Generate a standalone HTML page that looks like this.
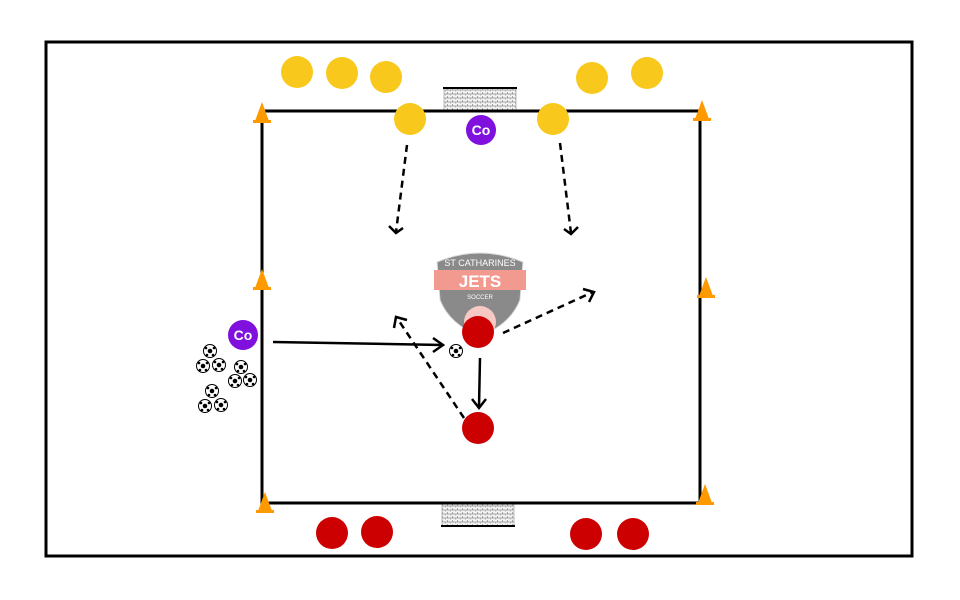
<!DOCTYPE html>
<html><head><style>body{margin:0;background:#fff}svg{display:block}</style></head><body>
<svg width="960" height="600" xmlns="http://www.w3.org/2000/svg" font-family="Liberation Sans, sans-serif">
<defs>
<pattern id="net" width="5" height="4" patternUnits="userSpaceOnUse"><rect width="5" height="4" fill="#f4f4f4"/><path d="M0 2h5M2.5 0v2M0 2v2" stroke="#888" stroke-width="0.7"/></pattern>
<g id="ball"><circle r="6.5" fill="#fff" stroke="#000" stroke-width="1"/><circle r="2.3" fill="#000"/><circle cx="-4" cy="-3" r="1.3" fill="#000"/><circle cx="4" cy="-3" r="1.3" fill="#000"/><circle cx="-3" cy="4" r="1.3" fill="#000"/><circle cx="3" cy="4" r="1.3" fill="#000"/></g>
<g id="cone"><polygon points="0,-13 7,6 -7,6" fill="#f90"/><rect x="-9" y="5" width="18" height="3" fill="#f90"/></g>
</defs>
<rect x="46" y="42" width="866" height="514" fill="#fff" stroke="#000" stroke-width="3"/>
<rect x="444" y="88" width="72" height="22" fill="url(#net)" stroke="#aaa" stroke-width="0.8"/><line x1="443" y1="88" x2="517" y2="88" stroke="#000" stroke-width="2"/>
<rect x="442" y="504" width="72" height="22" fill="url(#net)" stroke="#aaa" stroke-width="0.8"/><line x1="441" y1="526" x2="515" y2="526" stroke="#000" stroke-width="2"/>
<rect x="262" y="111" width="438" height="392" fill="none" stroke="#000" stroke-width="3"/>
<!-- logo -->
<g>
<path d="M437 262 Q480 244 523 262 L520 300 Q510 325 480 336 Q450 325 440 300 Z" fill="#8a8a8a" stroke="#ddd" stroke-width="1"/>
<rect x="434" y="270" width="92" height="20" fill="#f29a90"/>
<text x="480" y="266" font-size="9" fill="#fff" text-anchor="middle">ST CATHARINES</text>
<text x="480" y="287" font-size="17" font-weight="bold" fill="#fff" text-anchor="middle">JETS</text>
<text x="480" y="299" font-size="6" fill="#fff" text-anchor="middle">SOCCER</text>
<circle cx="480" cy="322" r="16" fill="#f6c9c4"/>
</g>
<!-- arrows -->
<g stroke="#000" stroke-width="2.5" fill="none">
<path d="M407 145 L396 232" stroke-dasharray="7,5"/><path d="M389 226 L396 233 L403 228"/>
<path d="M560 143 L571 233" stroke-dasharray="7,5"/><path d="M564 229 L571 234 L578 227"/>
<path d="M464 418 L397 318" stroke-dasharray="7,5"/><path d="M394 328 L396 317 L407 320"/>
<path d="M503 333 L593 292" stroke-dasharray="7,5"/><path d="M583 289 L594 292 L589 302"/>
<path d="M273 342 L443 345"/><path d="M433 338 L443 345 L433 352"/>
<path d="M480 358 L479 407"/><path d="M472 399 L479 408 L486 399"/>
</g>
<!-- players -->
<g fill="#f8c91c">
<circle cx="297" cy="72" r="16"/><circle cx="342" cy="73" r="16"/><circle cx="386" cy="77" r="16"/><circle cx="410" cy="119" r="16"/><circle cx="553" cy="119" r="16"/><circle cx="592" cy="78" r="16"/><circle cx="647" cy="73" r="16"/>
</g>
<g fill="#cc0000">
<circle cx="478" cy="332" r="16"/><circle cx="478" cy="428" r="16"/><circle cx="332" cy="533" r="16"/><circle cx="377" cy="532" r="16"/><circle cx="586" cy="534" r="16"/><circle cx="633" cy="534" r="16"/>
</g>
<g fill="#7f10dd"><circle cx="481" cy="130" r="15"/><circle cx="243" cy="335" r="15"/></g>
<g fill="#fff" font-size="14" font-weight="bold" text-anchor="middle"><text x="481" y="135">Co</text><text x="243" y="340">Co</text></g>
<use href="#cone" x="262" y="115"/><use href="#cone" x="262" y="282"/><use href="#cone" x="265" y="505"/>
<use href="#cone" x="702" y="113"/><use href="#cone" x="706" y="290"/><use href="#cone" x="705" y="497"/>
<use href="#ball" x="210" y="351"/><use href="#ball" x="203" y="366"/><use href="#ball" x="219" y="365"/>
<use href="#ball" x="241" y="367"/><use href="#ball" x="235" y="381"/><use href="#ball" x="250" y="380"/>
<use href="#ball" x="212" y="391"/><use href="#ball" x="205" y="406"/><use href="#ball" x="221" y="405"/>
<use href="#ball" x="456" y="351"/>
</svg>
</body></html>
